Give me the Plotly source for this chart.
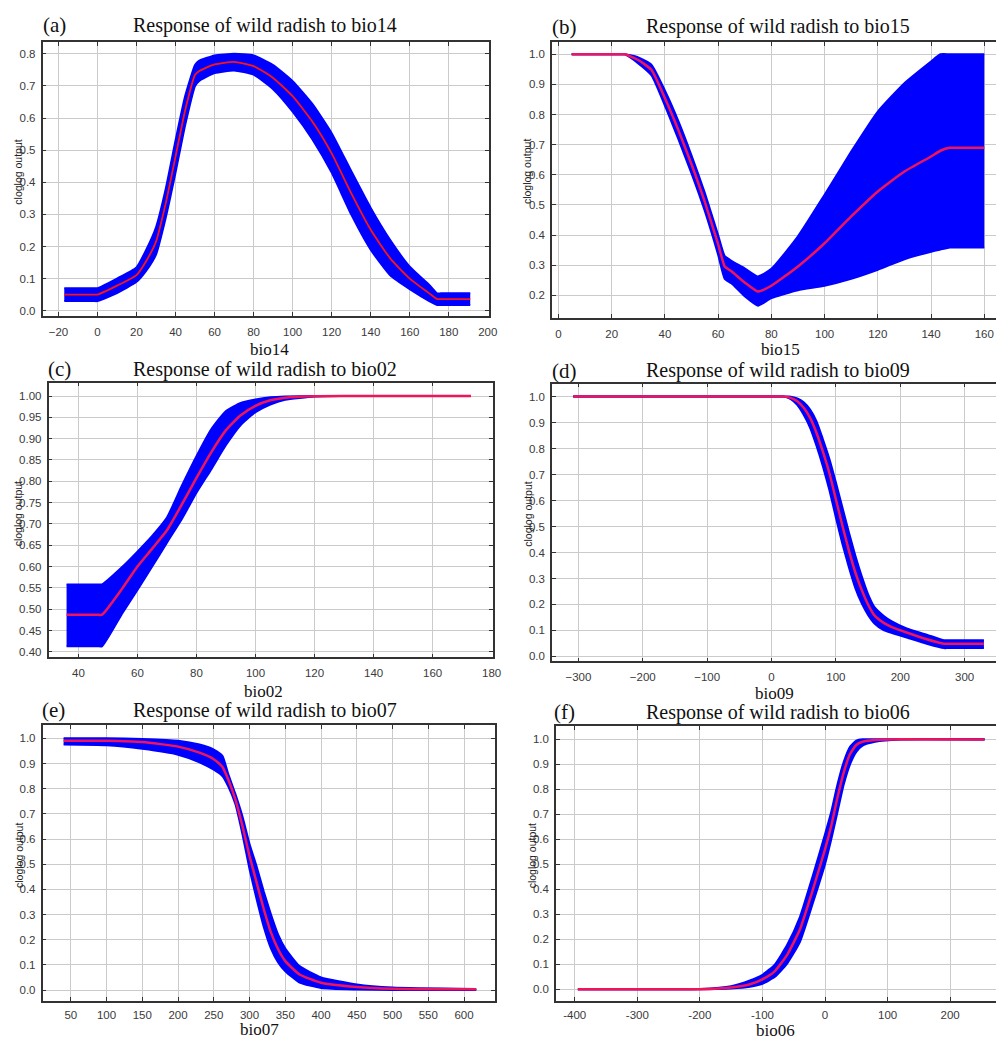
import plotly.graph_objects as go

# ---------------- response-curve data (mean and +/- one SD) ----------------
bio14_x = [-17, -2, 0, 10, 20, 25, 30, 35, 40, 45, 50, 52, 60, 70, 80, 90, 100, 110, 120, 130, 140, 150, 160, 170, 174, 176, 191]
bio14_mean = [0.05, 0.05, 0.05, 0.078, 0.111, 0.155, 0.215, 0.335, 0.48, 0.626, 0.735, 0.746, 0.767, 0.775, 0.762, 0.725, 0.668, 0.59, 0.49, 0.366, 0.252, 0.163, 0.10, 0.054, 0.036, 0.036, 0.036]
bio14_upper = [0.07, 0.07, 0.07, 0.10, 0.135, 0.19, 0.26, 0.38, 0.53, 0.67, 0.765, 0.778, 0.795, 0.80, 0.795, 0.765, 0.715, 0.645, 0.553, 0.435, 0.32, 0.22, 0.137, 0.08, 0.054, 0.054, 0.054]
bio14_lower = [0.03, 0.03, 0.03, 0.055, 0.09, 0.125, 0.175, 0.29, 0.43, 0.58, 0.70, 0.715, 0.74, 0.748, 0.735, 0.69, 0.62, 0.535, 0.43, 0.30, 0.19, 0.11, 0.067, 0.03, 0.018, 0.018, 0.018]

bio15_x = [5, 23, 25, 30, 35, 40, 45, 50, 55, 60, 62.5, 65, 70, 75, 80, 90, 100, 110, 120, 130, 140, 143.5, 147, 149, 160]
bio15_mean = [1.0, 1.0, 1.0, 0.981, 0.948, 0.855, 0.75, 0.635, 0.51, 0.37, 0.296, 0.28, 0.243, 0.213, 0.232, 0.296, 0.373, 0.462, 0.545, 0.611, 0.661, 0.68, 0.69, 0.69, 0.69]
bio15_upper = [1.0, 1.0, 1.0, 0.99, 0.965, 0.88, 0.78, 0.665, 0.54, 0.40, 0.33, 0.315, 0.29, 0.263, 0.288, 0.396, 0.534, 0.677, 0.81, 0.904, 0.976, 1.0, 1.0, 1.0, 1.0]
bio15_lower = [1.0, 1.0, 1.0, 0.97, 0.93, 0.83, 0.72, 0.605, 0.48, 0.335, 0.255, 0.24, 0.197, 0.166, 0.191, 0.217, 0.232, 0.255, 0.285, 0.32, 0.345, 0.352, 0.359, 0.359, 0.359]

bio02_x = [36, 46.5, 48, 55, 60, 65, 70, 75, 80, 85, 90, 95, 100, 105, 110, 120, 130, 173]
bio02_mean = [0.487, 0.487, 0.487, 0.55, 0.60, 0.642, 0.685, 0.745, 0.808, 0.868, 0.92, 0.955, 0.977, 0.99, 0.996, 0.9995, 1.0, 1.0]
bio02_upper = [0.558, 0.558, 0.558, 0.60, 0.635, 0.672, 0.715, 0.789, 0.859, 0.922, 0.965, 0.984, 0.992, 0.997, 0.999, 1.0, 1.0, 1.0]
bio02_lower = [0.413, 0.413, 0.413, 0.492, 0.545, 0.60, 0.656, 0.711, 0.773, 0.828, 0.885, 0.932, 0.962, 0.98, 0.991, 0.999, 1.0, 1.0]

bio09_x = [-308, 15, 20, 30, 40, 50, 60, 70, 80, 90, 100, 110, 120, 130, 140, 150, 160, 175, 187, 210, 240, 268, 272, 330]
bio09_mean = [1.0, 1.0, 1.0, 0.995, 0.982, 0.957, 0.918, 0.86, 0.787, 0.705, 0.605, 0.505, 0.41, 0.325, 0.257, 0.2, 0.158, 0.128, 0.113, 0.092, 0.067, 0.049, 0.049, 0.049]
bio09_upper = [1.0, 1.0, 1.0, 1.0, 0.993, 0.978, 0.95, 0.905, 0.835, 0.76, 0.67, 0.575, 0.48, 0.39, 0.31, 0.24, 0.19, 0.155, 0.135, 0.108, 0.085, 0.062, 0.062, 0.062]
bio09_lower = [1.0, 1.0, 1.0, 0.99, 0.968, 0.93, 0.88, 0.81, 0.73, 0.64, 0.535, 0.435, 0.345, 0.265, 0.205, 0.16, 0.127, 0.1, 0.09, 0.073, 0.05, 0.032, 0.032, 0.032]

bio07_x = [40, 100, 150, 200, 230, 250, 262, 270, 280, 290, 300, 310, 320, 330, 340, 350, 370, 400, 450, 500, 617]
bio07_mean = [0.99, 0.99, 0.985, 0.967, 0.943, 0.917, 0.887, 0.837, 0.758, 0.652, 0.532, 0.426, 0.32, 0.228, 0.162, 0.115, 0.062, 0.029, 0.012, 0.005, 0.003]
bio07_upper = [1.0, 1.0, 0.997, 0.99, 0.975, 0.955, 0.93, 0.86, 0.78, 0.69, 0.58, 0.49, 0.39, 0.30, 0.22, 0.165, 0.095, 0.05, 0.022, 0.01, 0.004]
bio07_lower = [0.975, 0.972, 0.958, 0.935, 0.905, 0.875, 0.85, 0.81, 0.74, 0.62, 0.48, 0.36, 0.25, 0.165, 0.11, 0.075, 0.03, 0.008, 0.002, 0.0, 0.0]

bio06_x = [-395, -250, -200, -150, -120, -100, -80, -60, -40, -20, 0, 10, 20, 30, 40, 50, 60, 80, 120, 255]
bio06_mean = [0.0, 0.0, 0.0, 0.007, 0.02, 0.04, 0.073, 0.14, 0.24, 0.394, 0.56, 0.654, 0.768, 0.868, 0.941, 0.977, 0.99, 0.997, 1.0, 0.999]
bio06_upper = [0.0, 0.0, 0.001, 0.012, 0.035, 0.058, 0.10, 0.18, 0.29, 0.45, 0.62, 0.71, 0.82, 0.91, 0.97, 0.995, 1.0, 1.0, 1.0, 1.0]
bio06_lower = [0.0, 0.0, 0.0, 0.003, 0.01, 0.022, 0.05, 0.105, 0.19, 0.34, 0.50, 0.60, 0.71, 0.82, 0.90, 0.95, 0.975, 0.99, 0.999, 0.999]

# ---------------- tick values / labels ----------------
bio14_xticks = [-20, 0, 20, 40, 60, 80, 100, 120, 140, 160, 180, 200]
bio14_yticks = [0.0, 0.1, 0.2, 0.3, 0.4, 0.5, 0.6, 0.7, 0.8]
bio15_xticks = [0, 20, 40, 60, 80, 100, 120, 140, 160]
bio15_yticks = [0.2, 0.3, 0.4, 0.5, 0.6, 0.7, 0.8, 0.9, 1.0]
bio02_xticks = [40, 60, 80, 100, 120, 140, 160, 180]
bio02_yticks = [0.40, 0.45, 0.50, 0.55, 0.60, 0.65, 0.70, 0.75, 0.80, 0.85, 0.90, 0.95, 1.00]
bio09_xticks = [-300, -200, -100, 0, 100, 200, 300]
bio09_xticktext = ["\u2212300", "\u2212200", "\u2212100", "0", "100", "200", "300"]
bio07_xticks = [50, 100, 150, 200, 250, 300, 350, 400, 450, 500, 550, 600]
bio06_xticks = [-400, -300, -200, -100, 0, 100, 200]
bio06_xticktext = ["-400", "-300", "-200", "-100", "0", "100", "200"]
unit_yticks = [0.0, 0.1, 0.2, 0.3, 0.4, 0.5, 0.6, 0.7, 0.8, 0.9, 1.0]

W, H = 1005, 1039


def fx(p):
    return p / W


def fy(p):
    return 1 - p / H


BLUE = "#0000ff"
SERIF = "Liberation Serif, Times New Roman, serif"
SANS = "Liberation Sans, Arial, sans-serif"
SMOOTH = 0.5

panels = [
    dict(tag="(a)", var="bio14", x=bio14_x, m=bio14_mean, u=bio14_upper, l=bio14_lower,
         box=(43, 493, 42, 316), xr=[-28.1, 200.4], yr=[-0.0156, 0.837],
         xt=bio14_xticks, xtt=None, yt=bio14_yticks, yfmt=".1f", right=False, red="#ff1414", rw=1.8,
         tagpos=(55, 25), titlepos=(267, 26), xlabpos=(272, 350), ylabpos=(18, 172), xstand=5),
    dict(tag="(b)", var="bio15", x=bio15_x, m=bio15_mean, u=bio15_upper, l=bio15_lower,
         box=(557, 1005, 42, 318), xr=[-2.4, 164.4], yr=[0.126, 1.041],
         xt=bio15_xticks, xtt=None, yt=bio15_yticks, yfmt=".1f", right=True, red="#f0145a", rw=2.5,
         tagpos=(570, 27), titlepos=(785, 27), xlabpos=(788, 350), ylabpos=(532, 172), xstand=5),
    dict(tag="(c)", var="bio02", x=bio02_x, m=bio02_mean, u=bio02_upper, l=bio02_lower,
         box=(49, 497, 383, 658), xr=[29.9, 180.3], yr=[0.387, 1.0314],
         xt=bio02_xticks, xtt=None, yt=bio02_yticks, yfmt=".2f", right=False, red="#f0145a", rw=2.5,
         tagpos=(60, 369), titlepos=(267, 370), xlabpos=(266, 692), ylabpos=(18, 514), xstand=4),
    dict(tag="(d)", var="bio09", x=bio09_x, m=bio09_mean, u=bio09_upper, l=bio09_lower,
         box=(557, 1005, 384, 662), xr=[-341, 348.8], yr=[-0.019, 1.05],
         xt=bio09_xticks, xtt=bio09_xticktext, yt=unit_yticks, yfmt=".1f", right=True, red="#f0145a", rw=2.5,
         tagpos=(570, 371), titlepos=(785, 371), xlabpos=(782, 694), ylabpos=(532, 515), xstand=4),
    dict(tag="(e)", var="bio07", x=bio07_x, m=bio07_mean, u=bio07_upper, l=bio07_lower,
         box=(43, 499, 726, 1002), xr=[10.6, 642.6], yr=[-0.0436, 1.0516],
         xt=bio07_xticks, xtt=None, yt=unit_yticks, yfmt=".1f", right=False, red="#f0145a", rw=2.5,
         tagpos=(54, 711), titlepos=(267, 711), xlabpos=(262, 1030), ylabpos=(19, 856), xstand=2),
    dict(tag="(f)", var="bio06", x=bio06_x, m=bio06_mean, u=bio06_upper, l=bio06_lower,
         box=(561, 1005, 727, 1002), xr=[-430, 273.3], yr=[-0.047, 1.052],
         xt=bio06_xticks, xtt=bio06_xticktext, yt=unit_yticks, yfmt=".1f", right=True, red="#f0145a", rw=2.5,
         tagpos=(570, 713), titlepos=(785, 713), xlabpos=(783, 1031), ylabpos=(537, 857), xstand=2),
]

fig = go.Figure()
annotations = []
layout_axes = {}

for i, p in enumerate(panels, start=1):
    xa = "x" if i == 1 else f"x{i}"
    ya = "y" if i == 1 else f"y{i}"
    xkey = "xaxis" if i == 1 else f"xaxis{i}"
    ykey = "yaxis" if i == 1 else f"yaxis{i}"

    # SD band: lower edge, then upper edge filled down to it
    fig.add_trace(go.Scatter(
        x=p["x"], y=p["l"], mode="lines",
        line=dict(color=BLUE, width=2.0, shape="spline", smoothing=SMOOTH),
        hoverinfo="skip", xaxis=xa, yaxis=ya, showlegend=False))
    fig.add_trace(go.Scatter(
        x=p["x"], y=p["u"], mode="lines", fill="tonexty", fillcolor=BLUE,
        line=dict(color=BLUE, width=2.0, shape="spline", smoothing=SMOOTH),
        hoverinfo="skip", xaxis=xa, yaxis=ya, showlegend=False))
    # mean response
    fig.add_trace(go.Scatter(
        x=p["x"], y=p["m"], mode="lines",
        line=dict(color=p["red"], width=p["rw"], shape="spline", smoothing=SMOOTH),
        xaxis=xa, yaxis=ya, showlegend=False))

    left, right, top, bottom = p["box"]
    common = dict(showgrid=True, gridcolor="#cbcbcb", gridwidth=1.3, zeroline=False,
                  showline=True, linecolor="#333333", linewidth=1.6,
                  ticks="inside", ticklen=4, tickwidth=1.4, tickcolor="#333333",
                  tickfont=dict(family=SANS, size=11.5, color="#3a3a3a"))
    xax = dict(common, domain=[fx(left), fx(right)], range=p["xr"], anchor=ya,
               tickmode="array", tickvals=p["xt"], mirror="ticks", ticklabelstandoff=p["xstand"])
    if p["xtt"] is not None:
        xax["ticktext"] = p["xtt"]
    yax = dict(common, domain=[fy(bottom), fy(top)], range=p["yr"], anchor=xa,
               tickmode="array", tickvals=p["yt"], tickformat=p["yfmt"],
               mirror=False if p["right"] else "ticks", ticklabelstandoff=3)
    layout_axes[xkey] = xax
    layout_axes[ykey] = yax

    annotations.append(dict(text=p["tag"], x=fx(p["tagpos"][0]), y=fy(p["tagpos"][1]),
                            xref="paper", yref="paper", xanchor="center", yanchor="middle",
                            showarrow=False, font=dict(family=SERIF, size=21, color="#111111")))
    annotations.append(dict(text=f"Response of wild radish to {p['var']}",
                            x=fx(p["titlepos"][0]), y=fy(p["titlepos"][1]),
                            xref="paper", yref="paper", xanchor="center", yanchor="middle",
                            showarrow=False, font=dict(family=SERIF, size=20, color="#111111")))
    annotations.append(dict(text=p["var"], x=fx(p["xlabpos"][0]), y=fy(p["xlabpos"][1]),
                            xref="paper", yref="paper", xanchor="center", yanchor="middle",
                            showarrow=False, font=dict(family=SERIF, size=17, color="#111111")))
    annotations.append(dict(text="cloglog output", x=fx(p["ylabpos"][0]), y=fy(p["ylabpos"][1]),
                            xref="paper", yref="paper", xanchor="center", yanchor="middle",
                            textangle=-90, showarrow=False,
                            font=dict(family=SANS, size=10.5, color="#222222")))

fig.update_layout(
    width=W, height=H,
    margin=dict(l=0, r=0, t=0, b=0),
    paper_bgcolor="white", plot_bgcolor="white",
    annotations=annotations,
    **layout_axes,
)

fig.write_html("out.html")
